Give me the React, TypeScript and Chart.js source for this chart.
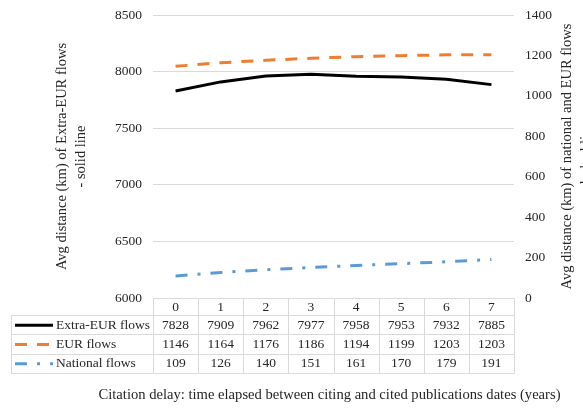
import { useEffect, useRef } from 'react';
import { Chart, registerables } from 'chart.js';

Chart.register(...registerables);

const categories = ['0', '1', '2', '3', '4', '5', '6', '7'];
const extraEurFlows = [7828, 7909, 7962, 7977, 7958, 7953, 7932, 7885];
const eurFlows = [1146, 1164, 1176, 1186, 1194, 1199, 1203, 1203];
const nationalFlows = [109, 126, 140, 151, 161, 170, 179, 191];
const seriesNames = ['Extra-EUR flows', 'EUR flows', 'National flows'];
const leftTitle = ['Avg distance (km) of Extra-EUR flows', '- solid line'];
const rightTitle = ['Avg distance (km) of national and EUR flows', '- dashed lines'];
const xTitle = 'Citation delay: time elapsed between citing and cited publications dates (years)';

const FONT = '"Liberation Serif", "Times New Roman", serif';
const TEXT = '#262626';
const GRID = '#d9d9d9';

const tablePlugin = {
  id: 'dataTable',
  afterDraw(chart: any) {
    const { ctx, chartArea, scales } = chart;
    const xs = scales.x;
    const left = chartArea.left;
    const right = chartArea.right;
    const top = chartArea.bottom;
    const n = categories.length;
    const colW = (right - left) / n;
    const headerH = 17;
    const rowH = 19.3;
    const tableLeft = 11;
    const rows = [extraEurFlows, eurFlows, nationalFlows];
    const crisp = (v: number) => Math.round(v) + 0.5;

    ctx.save();
    ctx.strokeStyle = GRID;
    ctx.lineWidth = 1;
    ctx.setLineDash([]);
    ctx.beginPath();
    ctx.moveTo(left, crisp(top));
    ctx.lineTo(right, crisp(top));
    for (let r = 0; r <= rows.length; r++) {
      const y = crisp(top + headerH + r * rowH);
      ctx.moveTo(tableLeft, y);
      ctx.lineTo(right, y);
    }
    const bottomY = crisp(top + headerH + rows.length * rowH);
    for (let i = 0; i <= n; i++) {
      const x = crisp(left + i * colW);
      ctx.moveTo(x, crisp(top));
      ctx.lineTo(x, bottomY);
    }
    ctx.moveTo(crisp(tableLeft), crisp(top + headerH));
    ctx.lineTo(crisp(tableLeft), bottomY);
    ctx.stroke();

    ctx.fillStyle = TEXT;
    ctx.font = `13.5px ${FONT}`;
    ctx.textAlign = 'center';
    ctx.textBaseline = 'middle';
    categories.forEach((c, i) => {
      ctx.fillText(c, xs.getPixelForValue(i), top + headerH / 2 + 0.5);
    });
    rows.forEach((vals, r) => {
      const cy = top + headerH + r * rowH + rowH / 2 + 0.5;
      ctx.textAlign = 'center';
      vals.forEach((v, i) => {
        ctx.fillText(String(v), xs.getPixelForValue(i), cy);
      });
      const ds = chart.data.datasets[r];
      ctx.save();
      ctx.strokeStyle = ds.borderColor;
      ctx.lineWidth = 3;
      ctx.setLineDash(ds.borderDash || []);
      ctx.beginPath();
      ctx.moveTo(15, cy);
      ctx.lineTo(53, cy);
      ctx.stroke();
      ctx.restore();
      ctx.textAlign = 'left';
      ctx.fillText(seriesNames[r], 56, cy);
    });

    const midY = (chartArea.top + chartArea.bottom) / 2;
    ctx.font = `14.5px ${FONT}`;
    ctx.textAlign = 'center';
    const drawRot = (lines: string[], x0: number) => {
      lines.forEach((t, i) => {
        ctx.save();
        ctx.translate(x0 + i * 19, midY);
        ctx.rotate(-Math.PI / 2);
        ctx.fillText(t, 0, 0);
        ctx.restore();
      });
    };
    drawRot(leftTitle, 62);
    drawRot(rightTitle, right + 53);

    ctx.font = `14.6px ${FONT}`;
    ctx.fillText(xTitle, (left + right) / 2 - 4, 395);
    ctx.restore();
  },
};

export default function App() {
  const ref = useRef<HTMLCanvasElement>(null);
  useEffect(() => {
    if (!ref.current) return;
    const chart = new Chart(ref.current, {
      type: 'line',
      data: {
        labels: categories,
        datasets: [
          {
            label: seriesNames[0],
            data: extraEurFlows,
            yAxisID: 'y',
            borderColor: '#000000',
            backgroundColor: '#000000',
            borderWidth: 3,
            pointRadius: 0,
            tension: 0,
          },
          {
            label: seriesNames[1],
            data: eurFlows,
            yAxisID: 'y1',
            borderColor: '#ED7D31',
            backgroundColor: '#ED7D31',
            borderWidth: 3,
            borderDash: [12, 10],
            pointRadius: 0,
            tension: 0,
          },
          {
            label: seriesNames[2],
            data: nationalFlows,
            yAxisID: 'y1',
            borderColor: '#5B9BD5',
            backgroundColor: '#5B9BD5',
            borderWidth: 3,
            borderDash: [12, 10, 3, 10],
            pointRadius: 0,
            tension: 0,
          },
        ],
      },
      options: {
        responsive: false,
        animation: false,
        layout: { padding: { top: 15, bottom: 111, left: 0, right: 0 } },
        plugins: {
          legend: { display: false },
          tooltip: { enabled: false },
        },
        scales: {
          x: {
            display: false,
            offset: true,
          },
          y: {
            position: 'left',
            min: 6000,
            max: 8500,
            ticks: {
              stepSize: 500,
              padding: 11,
              color: TEXT,
              font: { family: FONT, size: 13.5 },
              callback: (v: any) => String(v),
            },
            grid: { color: GRID, drawTicks: false },
            border: { display: false },
            afterFit: (s: any) => {
              s.width = 153;
              s.paddingTop = 0;
              s.paddingBottom = 0;
            },
          },
          y1: {
            position: 'right',
            min: 0,
            max: 1400,
            ticks: {
              stepSize: 200,
              padding: 11,
              color: TEXT,
              font: { family: FONT, size: 13.5 },
              callback: (v: any) => String(v),
            },
            grid: { display: false, drawTicks: false },
            border: { display: false },
            afterFit: (s: any) => {
              s.width = 69;
              s.paddingTop = 0;
              s.paddingBottom = 0;
            },
          },
        },
      },
      plugins: [tablePlugin],
    });
    return () => chart.destroy();
  }, []);

  return (
    <div style={{ position: 'fixed', left: 0, top: 0, width: 583, height: 409, background: '#fff' }}>
      <canvas ref={ref} width={583} height={409} style={{ display: 'block' }} />
    </div>
  );
}
